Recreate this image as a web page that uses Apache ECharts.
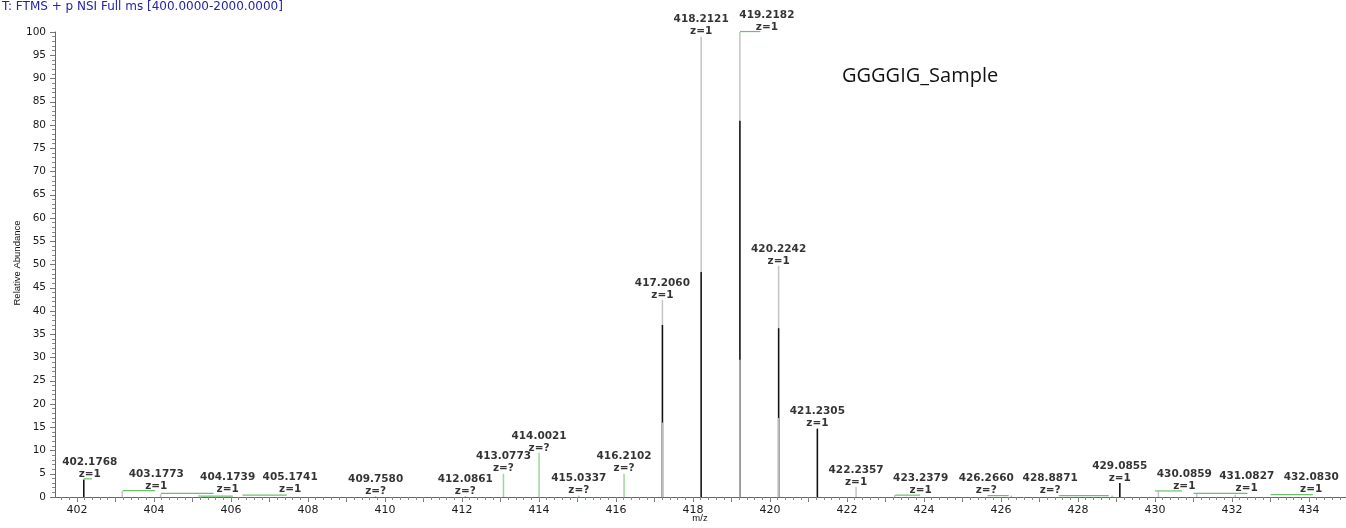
<!DOCTYPE html>
<html>
<head>
<meta charset="utf-8">
<script src="https://cdn.jsdelivr.net/npm/echarts@6/dist/echarts.min.js"></script>
<style>
  html, body { margin: 0; padding: 0; background: #fff; }
  #chart { width: 1346px; height: 528px; }
</style>
</head>
<body>
<div id="chart"></div>
<script>
// Labelled centroid peaks: m/z, charge state, relative abundance (%)
const peakMz = [402.1768, 403.1773, 404.1739, 405.1741, 409.7580, 412.0861, 413.0773, 414.0021,
                415.0337, 416.2102, 417.2060, 418.2121, 419.2182, 420.2242, 421.2305, 422.2357,
                423.2379, 426.2660, 428.8871, 429.0855, 430.0859, 431.0827, 432.0830];
const peakCharge = ['1', '1', '1', '1', '?', '?', '?', '?',
                    '?', '?', '1', '1', '1', '1', '1', '1',
                    '1', '?', '?', '1', '1', '1', '1'];
const peakAbundance = [3.9, 1.3, 0.6, 0.5, 0.2, 0.2, 5.0, 9.5,
                       0.3, 5.0, 42.4, 99.0, 100, 49.7, 14.7, 2.2,
                       0.4, 0.3, 0.3, 3.0, 1.3, 0.8, 0.5];

// Second (dark) scan overlaid on the same m/z positions
const overlayMz = [402.1768, 417.2060, 418.2121, 419.2182, 420.2242, 421.2305, 429.0855];
const overlayAbundance = [3.7, 37.0, 48.4, 80.9, 36.3, 14.7, 3.0];

// Third (light) scan, lower isotope envelope
const lowerMz = [417.2060, 419.2182, 420.2242];
const lowerAbundance = [16.0, 29.5, 17.0];

// Baseline noise traces: start m/z, end m/z, level (%)
const traceStart = [402.18, 403.19, 404.18, 405.20, 406.30, 419.22, 423.25, 425.65, 427.50, 430.00, 431.00, 433.00];
const traceEnd   = [402.39, 404.03, 405.55, 406.05, 407.45, 419.75, 423.90, 426.20, 428.80, 430.70, 432.40, 434.10];
const traceLevel = [3.9, 1.35, 0.8, 0.2, 0.4, 100.1, 0.4, 0.3, 0.3, 1.3, 0.8, 0.5];

// Axis tick labels
const xTickLabels = [402, 404, 406, 408, 410, 412, 414, 416, 418, 420, 422, 424, 426, 428, 430, 432, 434];
const yTickStep = 5;

// Horizontal label nudges (px) where the label sits beside its peak
const labelShift = {
  '402.1768': 6, '403.1773': 34, '404.1739': 67, '405.1741': 91,
  '419.2182': 27, '423.2379': 26, '426.2660': -25, '428.8871': -62,
  '430.0859': 26, '431.0827': 50, '432.0830': 76
};

const X_MIN = 401.43, X_MAX = 434.96;

const integerTicks = [];
for (let v = 402; v <= 434; v++) integerTicks.push(v);
const minorTicks = [];
for (let k = Math.ceil(X_MIN * 5); k <= Math.floor(X_MAX * 5); k++) minorTicks.push(+(k / 5).toFixed(1));

function stickSeries(name, xs, ys, colorFn, width, z) {
  return {
    name: name,
    type: 'custom',
    z: z,
    silent: true,
    data: xs.map((x, i) => [x, ys[i], i]),
    renderItem: function (params, api) {
      const p0 = api.coord([api.value(0), 0]);
      const p1 = api.coord([api.value(0), api.value(1)]);
      return {
        type: 'line',
        shape: { x1: p0[0], y1: p0[1], x2: p1[0], y2: p1[1] },
        style: { stroke: colorFn(api.value(2)), lineWidth: width }
      };
    }
  };
}

const chart = echarts.init(document.getElementById('chart'), null, { renderer: 'canvas' });

const axisFont = { fontFamily: 'DejaVu Sans', color: '#1a1a1a' };

chart.setOption({
  animation: false,
  backgroundColor: '#ffffff',
  grid: { left: 55, right: 0, top: 32, bottom: 31, containLabel: false },
  xAxis: [
    {
      type: 'value', min: X_MIN, max: X_MAX,
      axisLine: { show: true, lineStyle: { color: '#666', width: 1 } },
      axisTick: { show: true, length: 5, customValues: integerTicks, lineStyle: { color: '#777' } },
      axisLabel: { show: true, customValues: xTickLabels, margin: 8, fontSize: 11, ...axisFont,
                   formatter: v => String(Math.round(v)) },
      splitLine: { show: false }
    },
    {
      type: 'value', min: X_MIN, max: X_MAX, position: 'bottom',
      axisLine: { show: false },
      axisTick: { show: true, length: 3, customValues: minorTicks, lineStyle: { color: '#888' } },
      axisLabel: { show: false },
      splitLine: { show: false }
    }
  ],
  yAxis: {
    type: 'value', min: 0, max: 100, interval: yTickStep,
    axisLine: { show: true, lineStyle: { color: '#666', width: 1 } },
    axisTick: { show: true, length: 5, lineStyle: { color: '#777' } },
    minorTick: { show: true, splitNumber: 5, length: 3, lineStyle: { color: '#888' } },
    axisLabel: { margin: 9, fontSize: 10.5, ...axisFont },
    splitLine: { show: false }
  },
  title: {
    text: 'T: FTMS + p NSI Full ms [400.0000-2000.0000]',
    left: 2, top: 1, padding: [0, 0, 0, 0],
    textStyle: { fontFamily: 'DejaVu Sans', fontSize: 12, fontWeight: 'normal', color: '#2323a8' }
  },
  graphic: [
    {
      type: 'text', left: 842, top: 66,
      style: { text: 'GGGGIG_Sample', font: '20px "Open Sans"', fill: '#111' }
    },
    {
      type: 'text', x: 17, y: 263, rotation: Math.PI / 2,
      style: { text: 'Relative Abundance', font: '9.5px "Liberation Sans"', fill: '#111',
               align: 'center', verticalAlign: 'middle' }
    },
    {
      type: 'text', x: 700, y: 518,
      style: { text: 'm/z', font: '9.5px "Liberation Sans"', fill: '#111',
               align: 'center', verticalAlign: 'middle' }
    }
  ],
  series: [
    stickSeries('profile', peakMz, peakAbundance,
      i => (peakCharge[i] === '?' ? '#9fd69f' : '#c4c4c4'), 1.5, 2),
    stickSeries('overlay', overlayMz, overlayAbundance, () => '#111111', 1.5, 3),
    stickSeries('lower', lowerMz, lowerAbundance, () => '#bdbdbd', 1.5, 4),
    {
      name: 'noise',
      type: 'custom',
      z: 5,
      silent: true,
      data: traceStart.map((s, i) => [s, traceEnd[i], traceLevel[i]]),
      renderItem: function (params, api) {
        const a = api.coord([api.value(0), api.value(2)]);
        const b = api.coord([api.value(1), api.value(2)]);
        return {
          type: 'line',
          shape: { x1: a[0], y1: a[1], x2: b[0], y2: b[1] },
          style: { stroke: '#6cc06c', lineWidth: 1.2 }
        };
      }
    },
    {
      name: 'labels',
      type: 'scatter',
      z: 6,
      silent: true,
      symbolSize: 0,
      data: peakMz.map((m, i) => {
        const key = m.toFixed(4);
        return {
          value: [m, peakAbundance[i]],
          label: {
            show: true,
            position: 'top',
            distance: 0,
            offset: [labelShift[key] || 0, 1],
            formatter: key + '\nz=' + peakCharge[i]
          }
        };
      }),
      label: {
        fontFamily: 'DejaVu Sans',
        fontWeight: 'bold',
        fontSize: 10.5,
        lineHeight: 12,
        color: '#000',
        align: 'center'
      }
    }
  ]
});
</script>
</body>
</html>
